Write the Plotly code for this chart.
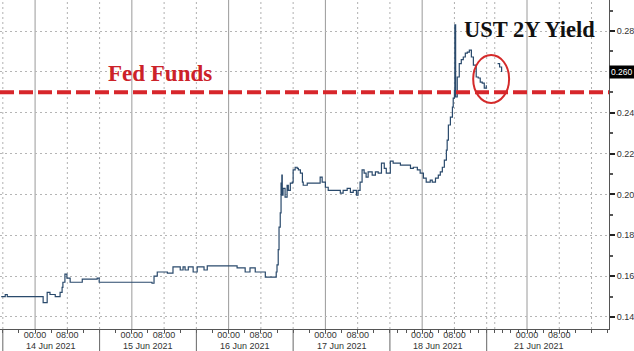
import plotly.graph_objects as go
import pandas as pd

# ---------------- data ----------------
# hours since 2021-06-14 00:00 (weekend 18 Jun 16:00 -> 20 Jun 14:00 is skipped on the axis)
hours = [-8.4, -7.4, -6.9, 0.0, 1.2, 2.0, 3.0, 3.7, 5.0, 5.7, 6.2, 6.7, 6.9, 7.4, 7.9, 8.7,
         11.7, 13.6, 15.4, 15.9, 29.0, 29.5, 30.3, 31.8, 32.8, 34.2, 35.5, 36.0, 36.7, 37.2,
         38.0, 39.2, 40.2, 41.9, 42.7, 50.1, 52.1, 53.3, 54.6, 56.3, 57.1, 59.8, 60.0, 60.3,
         60.5, 60.8, 61.0, 61.2, 61.3, 61.5, 62.0, 62.5, 62.8, 63.3, 63.8, 64.0, 64.5, 65.0,
         65.3, 65.8, 66.3, 66.5, 67.5, 70.2, 70.7, 71.2, 72.0, 72.7, 73.2, 74.7, 75.7, 76.4,
         77.4, 78.2, 78.9, 79.7, 80.1, 80.6, 81.1, 81.6, 82.1, 82.6, 83.6, 84.4, 85.1, 85.9,
         86.6, 87.1, 88.1, 88.8, 89.8, 90.6, 91.8, 93.1, 93.8, 94.8, 95.5, 96.3, 97.0, 98.0,
         98.5, 99.3, 100.0, 100.5, 101.0, 101.5, 102.0, 102.2, 102.5, 103.0, 103.5, 103.7,
         104.0, 104.1, 104.3, 104.7, 105.2, 105.7, 106.2, 106.7, 107.2, 107.7, 108.2, 108.7,
         109.4, 109.9, 110.4, 110.9, 111.4, 111.9, 160.7, 161.2, 161.7]
yields = [0.150, 0.151, 0.150, 0.150, 0.150, 0.147, 0.152, 0.151, 0.150, 0.150, 0.152, 0.1545,
          0.157, 0.161, 0.159, 0.157, 0.1585, 0.1585, 0.159, 0.157, 0.1565, 0.160, 0.162, 0.162,
          0.1615, 0.1645, 0.1645, 0.163, 0.1645, 0.163, 0.1645, 0.162, 0.1645, 0.163, 0.165,
          0.164, 0.162, 0.164, 0.162, 0.162, 0.1595, 0.162, 0.1655, 0.173, 0.184, 0.191, 0.2055,
          0.2095, 0.1996, 0.203, 0.1987, 0.2045, 0.202, 0.2055, 0.206, 0.212, 0.2133, 0.2128,
          0.212, 0.2104, 0.206, 0.2045, 0.2055, 0.2055, 0.2085, 0.206, 0.2035, 0.202, 0.202,
          0.202, 0.2006, 0.202, 0.203, 0.201, 0.202, 0.1996, 0.202, 0.206, 0.212, 0.2104, 0.2085,
          0.211, 0.2094, 0.211, 0.2104, 0.2153, 0.2128, 0.2104, 0.2163, 0.2153, 0.2153, 0.2143,
          0.2143, 0.2128, 0.2133, 0.212, 0.2104, 0.208, 0.206, 0.207, 0.206, 0.208, 0.2094,
          0.211, 0.2133, 0.2168, 0.2217, 0.2266, 0.234, 0.2378, 0.2427, 0.2472, 0.251, 0.283,
          0.2477, 0.2575, 0.264, 0.266, 0.2673, 0.2692, 0.2697, 0.2707, 0.2673, 0.2633, 0.2575,
          0.257, 0.255, 0.2545, 0.252, 0.2535, 0.264, 0.2624, 0.260]

fed_funds = 0.25
last_value = 0.260

tick_times = ["2021-06-14 00:00", "2021-06-14 08:00", "2021-06-15 00:00", "2021-06-15 08:00",
              "2021-06-16 00:00", "2021-06-16 08:00", "2021-06-17 00:00", "2021-06-17 08:00",
              "2021-06-18 00:00", "2021-06-18 08:00", "2021-06-21 00:00", "2021-06-21 08:00"]
tick_text = ["00:00", "08:00"] * 6
date_labels = ["14 Jun 2021", "15 Jun 2021", "16 Jun 2021", "17 Jun 2021", "18 Jun 2021", "21 Jun 2021"]
date_label_pos = ["2021-06-14 04:00", "2021-06-15 04:00", "2021-06-16 04:00", "2021-06-17 04:00",
                  "2021-06-18 04:00", "2021-06-21 03:00"]
y_ticks = [0.14, 0.16, 0.18, 0.20, 0.22, 0.24, 0.26, 0.28]

# ---------------- figure ----------------
base = pd.Timestamp("2021-06-14 00:00")
times = [base + pd.Timedelta(hours=h) for h in hours]

W, H = 634, 351
ML, MR, MT, MB = 0, 25, 0, 22
plot_h = H - MT - MB
brk0, brk1 = pd.Timestamp("2021-06-18 16:00"), pd.Timestamp("2021-06-20 14:00")

fig = go.Figure()
pre = [(t, v) for t, v in zip(times, yields) if t <= brk0]
post = [(t, v) for t, v in zip(times, yields) if t > brk0]
for seg in (pre, post):
    fig.add_trace(go.Scatter(x=[p[0] for p in seg], y=[p[1] for p in seg], mode="lines",
                             line=dict(color="#2a4a6c", width=1.2, shape="hv"),
                             showlegend=False, hoverinfo="skip"))

shapes = []
# vertical grid: solid at midnight, dotted at 08:00 / 16:00
day_list = pd.date_range("2021-06-13", "2021-06-21", freq="D")
for d in day_list:
    for hh in (0, 8, 16):
        t = d + pd.Timedelta(hours=hh)
        if t < pd.Timestamp("2021-06-13 16:00") or (brk0 < t < brk1):
            continue
        if hh == 0:
            shapes.append(dict(type="line", xref="x", yref="paper", x0=t, x1=t, y0=0, y1=1,
                               line=dict(color="#9a9a9a", width=1), layer="below"))
        else:
            shapes.append(dict(type="line", xref="x", yref="paper", x0=t, x1=t, y0=0, y1=1,
                               line=dict(color="#b0b0b0", width=1, dash="2px,3px"), layer="below"))
        if hh == 16 and t <= brk0:
            shapes.append(dict(type="line", xref="x", yref="paper", x0=t, x1=t, y0=-MB / plot_h, y1=0,
                               line=dict(color="#666666", width=1)))

# Fed funds dashed line
shapes.append(dict(type="line", xref="paper", yref="y", x0=0, x1=1, y0=fed_funds, y1=fed_funds,
                   line=dict(color="#d7262b", width=4, dash="14px,5px")))
# red ellipse
shapes.append(dict(type="circle", xref="paper", yref="paper", x0=0.777, x1=0.836, y0=0.687, y1=0.833,
                   line=dict(color="#d42a2a", width=2)))

annotations = []
for lbl, pos in zip(date_labels, date_label_pos):
    annotations.append(dict(text=lbl, x=pos, xref="x", y=0, yref="paper", xanchor="center",
                            yanchor="middle", yshift=-17, showarrow=False,
                            font=dict(family="Liberation Sans", size=9, color="#333333")))
annotations.append(dict(text="<b>Fed Funds</b>", x=0.263, xref="paper", y=0.778, yref="paper",
                        xanchor="center", yanchor="middle", showarrow=False,
                        font=dict(family="Liberation Serif", size=23, color="#cc2229")))
annotations.append(dict(text="<b>UST 2Y Yield</b>", x=0.8695, xref="paper", y=0.909, yref="paper",
                        xanchor="center", yanchor="middle", showarrow=False,
                        font=dict(family="Liberation Serif", size=22.5, color="#111111")))
annotations.append(dict(text="%.3f" % last_value, x=1, xref="paper", y=last_value, yref="y",
                        xanchor="left", yanchor="middle", xshift=0, showarrow=False,
                        bgcolor="#000000", borderpad=1,
                        font=dict(family="Liberation Sans", size=8.5, color="#ffffff")))

y_ticktext = ["" if abs(v - last_value) < 1e-9 else "%.2f" % v for v in y_ticks]

fig.update_layout(
    width=W, height=H, margin=dict(l=ML, r=MR, t=MT, b=MB),
    paper_bgcolor="white", plot_bgcolor="white",
    shapes=shapes, annotations=annotations, showlegend=False,
    xaxis=dict(type="date", range=["2021-06-13 15:18", "2021-06-21 20:20"],
               rangebreaks=[dict(bounds=["2021-06-18 16:00", "2021-06-20 14:00"])],
               tickmode="array", tickvals=tick_times, ticktext=tick_text, ticks="", showgrid=False,
               ticklabelstandoff=-3,
               tickfont=dict(family="Liberation Sans", size=9, color="#333333"),
               showline=True, linecolor="#555555", linewidth=1, zeroline=False,
               minor=dict(dtick=4 * 3600 * 1000, tick0="2021-06-14", ticks="outside", ticklen=3,
                          tickcolor="#555555", showgrid=False)),
    yaxis=dict(side="right", range=[0.1341, 0.2952], tickmode="array", tickvals=y_ticks,
               ticktext=y_ticktext, ticks="outside", ticklen=5, tickwidth=2, tickcolor="#222222",
               showgrid=True, gridcolor="#b5b5b5", griddash="2px,3px", gridwidth=1,
               showline=True, linecolor="#555555", linewidth=1, zeroline=False,
               tickfont=dict(family="Liberation Sans", size=9, color="#333333"),
               minor=dict(dtick=0.01, tick0=0.0, ticks="outside", ticklen=3, tickcolor="#555555",
                          showgrid=False)),
)

fig.write_html("out.html")
